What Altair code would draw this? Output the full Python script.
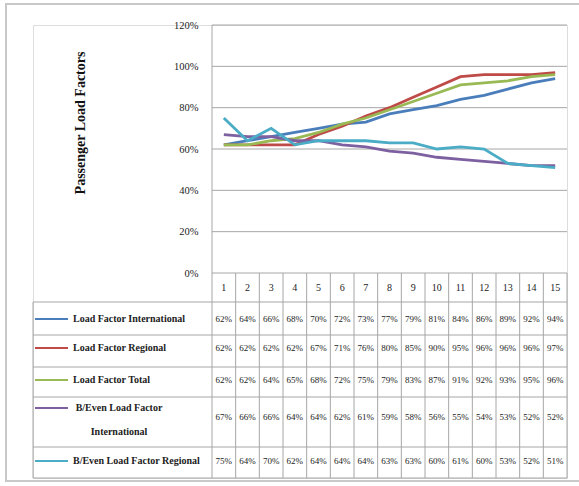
import altair as alt
import pandas as pd

# ---------------- data ----------------
periods = list(range(1, 16))
series_names = [
    "Load Factor International",
    "Load Factor Regional",
    "Load Factor Total",
    "B/Even Load Factor International",
    "B/Even Load Factor Regional",
]
lf_international = [62, 64, 66, 68, 70, 72, 73, 77, 79, 81, 84, 86, 89, 92, 94]
lf_regional = [62, 62, 62, 62, 67, 71, 76, 80, 85, 90, 95, 96, 96, 96, 97]
lf_total = [62, 62, 64, 65, 68, 72, 75, 79, 83, 87, 91, 92, 93, 95, 96]
be_international = [67, 66, 66, 64, 64, 62, 61, 59, 58, 56, 55, 54, 53, 52, 52]
be_regional = [75, 64, 70, 62, 64, 64, 64, 63, 63, 60, 61, 60, 53, 52, 51]
y_ticks = [0, 0.2, 0.4, 0.6, 0.8, 1.0, 1.2]
y_title = "Passenger Load Factors"

# ---------------- style / layout ----------------
colors = ["#4a7ebb", "#be4b48", "#98b954", "#7d60a0", "#4bacc6"]
FONT = "Liberation Serif"
W, H = 534, 453           # plot area (whole table + chart)
NCOL = 15
COLW = 355 / NCOL
XMIN = -179 / COLW        # label column width in column units
CHART_H = 248             # pixel position of 0% inside plot
HEADER_BOTTOM = 277
ROW_BOTTOMS = [310, 342, 372, 422, 453]
ROW_TEXT_Y = [294, 323, 355, 392, 436]   # value text centres
GRID = "#a6a6a6"

all_values = [lf_international, lf_regional, lf_total, be_international, be_regional]

line_rows = []
for name, vals in zip(series_names, all_values):
    for p, v in zip(periods, vals):
        line_rows.append({"series": name, "xc": p - 0.5, "value": v / 100})
line_df = pd.DataFrame(line_rows)

xs = alt.Scale(domain=[XMIN, NCOL], range=[0, W], nice=False, zero=False)
ys_val = alt.Scale(domain=[0, 1.2], range=[CHART_H, 0], nice=False, zero=False)
ys_px = alt.Scale(domain=[0, H], range=[0, H], nice=False, zero=False)

# gridlines
grid_df = pd.DataFrame({"v": y_ticks[1:], "x0": 0, "x1": NCOL})
grid = alt.Chart(grid_df).mark_rule(color=GRID, strokeWidth=1).encode(
    x=alt.X("x0:Q", scale=xs, axis=None),
    x2="x1:Q",
    y=alt.Y("v:Q", scale=ys_val, axis=None),
)

# series lines, with the real y axis moved into the plot
lines = alt.Chart(line_df).mark_line(strokeWidth=2.8).encode(
    x=alt.X("xc:Q", scale=xs, axis=None),
    y=alt.Y(
        "value:Q",
        scale=ys_val,
        axis=alt.Axis(
            values=y_ticks, format=".0%", offset=-179, grid=False, ticks=False,
            domain=False, title=None, labelFont=FONT, labelFontSize=10.5,
            labelColor="#222", labelPadding=14,
        ),
    ),
    color=alt.Color("series:N", scale=alt.Scale(domain=series_names, range=colors), legend=None),
    order=alt.Order("xc:Q"),
)

# table horizontal lines
hl_rows = [{"py": CHART_H, "x0": 0, "x1": NCOL}]
for yb in [HEADER_BOTTOM] + ROW_BOTTOMS:
    hl_rows.append({"py": yb, "x0": XMIN, "x1": NCOL})
hlines = alt.Chart(pd.DataFrame(hl_rows)).mark_rule(color=GRID, strokeWidth=1).encode(
    x=alt.X("x0:Q", scale=xs, axis=None),
    x2="x1:Q",
    y=alt.Y("py:Q", scale=ys_px, axis=None),
)

# table vertical lines
vl_rows = [{"x": XMIN, "y0": HEADER_BOTTOM, "y1": H}, {"x": 0, "y0": 0, "y1": H}]
for k in range(1, NCOL + 1):
    vl_rows.append({"x": k, "y0": CHART_H, "y1": H})
vlines = alt.Chart(pd.DataFrame(vl_rows)).mark_rule(color=GRID, strokeWidth=1).encode(
    x=alt.X("x:Q", scale=xs, axis=None),
    y=alt.Y("y0:Q", scale=ys_px, axis=None),
    y2="y1:Q",
)

# header numbers
hdr_df = pd.DataFrame({"xc": [p - 0.5 for p in periods], "label": [str(p) for p in periods],
                       "py": (CHART_H + HEADER_BOTTOM) / 2})
header = alt.Chart(hdr_df).mark_text(font=FONT, fontSize=10, color="#222").encode(
    x=alt.X("xc:Q", scale=xs, axis=None),
    y=alt.Y("py:Q", scale=ys_px, axis=None),
    text="label:N",
)

# table values
cell_rows = []
for i, vals in enumerate(all_values):
    for p, v in zip(periods, vals):
        cell_rows.append({"xc": p - 0.5, "py": ROW_TEXT_Y[i], "label": f"{v}%"})
cells = alt.Chart(pd.DataFrame(cell_rows)).mark_text(font=FONT, fontSize=9, color="#222").encode(
    x=alt.X("xc:Q", scale=xs, axis=None),
    y=alt.Y("py:Q", scale=ys_px, axis=None),
    text="label:N",
)

# row labels with legend keys
key_df = pd.DataFrame({"series": series_names, "py": [294, 323, 355, 383, 436]})
keys = alt.Chart(key_df).mark_rule(strokeWidth=2).encode(
    x=alt.value(2), x2=alt.value(35),
    y=alt.Y("py:Q", scale=ys_px, axis=None),
    color=alt.Color("series:N", scale=alt.Scale(domain=series_names, range=colors), legend=None),
)
lab_left_df = pd.DataFrame({
    "label": [series_names[0], series_names[1], series_names[2], series_names[4]],
    "py": [294, 323, 355, 436],
})
labels_left = alt.Chart(lab_left_df).mark_text(font=FONT, fontSize=10, align="left",
                                               color="#222", fontWeight="bold").encode(
    x=alt.value(40),
    y=alt.Y("py:Q", scale=ys_px, axis=None),
    text="label:N",
)
lab_center_df = pd.DataFrame({"label": ["B/Even Load Factor", "International"], "py": [383, 407]})
labels_center = alt.Chart(lab_center_df).mark_text(font=FONT, fontSize=10, align="center",
                                                   color="#222", fontWeight="bold").encode(
    x=alt.value(86),
    y=alt.Y("py:Q", scale=ys_px, axis=None),
    text="label:N",
)

# axis title
title = alt.Chart(pd.DataFrame({"t": [y_title]})).mark_text(
    font=FONT, fontSize=14, fontWeight="bold", angle=270, color="#111"
).encode(x=alt.value(48), y=alt.value(98), text="t:N")

# outer frame
frame = alt.Chart(pd.DataFrame({"a": [0]})).mark_rect(
    fill="transparent", stroke="#c8c8c8", strokeWidth=2
).encode(x=alt.value(-27), x2=alt.value(580), y=alt.value(-21), y2=alt.value(456))

chart = alt.layer(
    frame, grid, hlines, vlines, header, cells, keys, labels_left, labels_center, title, lines
).resolve_scale(y="independent").properties(
    width=W, height=H,
    autosize=alt.AutoSizeParams(type="none"),
    padding={"left": 33, "top": 25, "right": 12, "bottom": 8},
).configure_view(stroke=None).configure(background="white")

chart.save("out.html", embed_options={"renderer": "svg", "actions": False})
